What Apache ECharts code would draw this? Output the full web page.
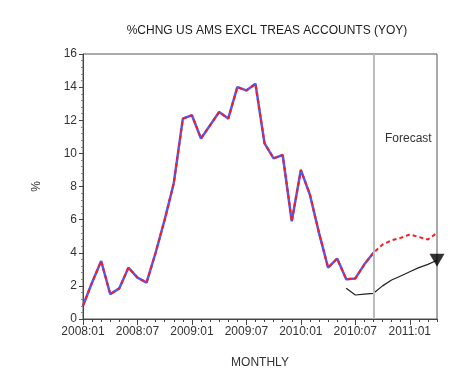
<!DOCTYPE html>
<html><head><meta charset="utf-8">
<script src="https://cdn.jsdelivr.net/npm/echarts@6/dist/echarts.min.js"></script>
<style>html,body{margin:0;padding:0;background:#fff}#c{width:471px;height:390px}</style>
</head><body><div id="c"></div>
<script>
const months = ['2008:01','2008:02','2008:03','2008:04','2008:05','2008:06','2008:07','2008:08','2008:09','2008:10','2008:11','2008:12',
'2009:01','2009:02','2009:03','2009:04','2009:05','2009:06','2009:07','2009:08','2009:09','2009:10','2009:11','2009:12',
'2010:01','2010:02','2010:03','2010:04','2010:05','2010:06','2010:07','2010:08','2010:09','2010:10','2010:11','2010:12',
'2011:01','2011:02','2011:03','2011:04'];
const actual = [0.8,2.2,3.5,1.5,1.85,3.1,2.5,2.2,4.0,6.0,8.2,12.1,
12.3,10.9,11.7,12.5,12.1,14.0,13.8,14.2,10.6,9.7,9.9,5.9,
9.0,7.5,5.2,3.1,3.65,2.4,2.45,3.3,4.0];
const forecastRed = [4.5,4.75,4.9,5.1,4.95,4.8,5.2];
const blackLine = [1.85,1.45,1.5,1.55,2.0,2.35,2.6,2.85,3.1,3.3,3.55];
const blackStart = 29;
const forecastMonth = '2010:09';
const yTicks = [0,2,4,6,8,10,12,14,16];

const n = months.length;
const blueData = months.map((m,i)=> i < actual.length ? actual[i] : null);
const redData = months.map((m,i)=> i < actual.length ? actual[i] : forecastRed[i-actual.length]);
const blackData = months.map((m,i)=> i < blackStart ? null : blackLine[i-blackStart]);
const endPoint = [[months[n-1], blackLine[blackLine.length-1]]];

const chart = echarts.init(document.getElementById('c'));
const lblFont = {fontFamily:'Liberation Sans, Arial', fontSize:12, color:'#333'};
chart.setOption({
  animation:false,
  title:{text:'%CHNG US AMS EXCL TREAS ACCOUNTS (YOY)', left:262, top:20, textAlign:'center',
    textStyle:{fontFamily:'Liberation Sans, Arial', fontSize:12, fontWeight:'normal', color:'#222'}},
  grid:{left:83, right:34, top:54, bottom:71, show:true, borderColor:'#555', borderWidth:1, backgroundColor:'transparent'},
  xAxis:[{
    type:'category', data:months, boundaryGap:false,
    name:'MONTHLY', nameLocation:'middle', nameGap:38,
    nameTextStyle:lblFont,
    axisLine:{lineStyle:{color:'#444'}},
    axisTick:{show:true, interval:0, length:3, lineStyle:{color:'#444'}},
    axisLabel:Object.assign({interval:5, margin:7}, lblFont),
    splitLine:{show:false}
  },{
    type:'category', data:months, boundaryGap:false, position:'bottom',
    axisLine:{show:false},
    axisTick:{show:true, interval:5, length:6, lineStyle:{color:'#444'}},
    axisLabel:{show:false}, splitLine:{show:false}
  }],
  yAxis:{
    type:'value', min:yTicks[0], max:yTicks[yTicks.length-1], interval:2,
    name:'%', nameLocation:'middle', nameGap:40, nameRotate:90,
    nameTextStyle:lblFont,
    axisLine:{show:true, lineStyle:{color:'#444'}},
    axisTick:{show:true, length:4, lineStyle:{color:'#444'}},
    minorTick:{show:true, splitNumber:5, length:2, lineStyle:{color:'#888'}},
    axisLabel:Object.assign({margin:6}, lblFont),
    splitLine:{show:false}
  },
  graphic:[{type:'text', left:385, top:133, style:{text:'Forecast', font:'12px Liberation Sans, Arial', fill:'#333'}}],
  series:[
    {type:'line', data:blueData, symbol:'none', lineStyle:{color:'#4a5cff', width:2.5}, z:2,
      markLine:{silent:true, symbol:'none', label:{show:false},
        lineStyle:{color:'#bbb', width:2, type:'solid'}, data:[{xAxis:forecastMonth}]}},
    {type:'line', data:redData, symbol:'none', lineStyle:{color:'#ff1a1a', width:2, type:[4,3]}, z:3},
    {type:'line', data:blackData, symbol:'none', lineStyle:{color:'#222', width:1.2}, z:4},
    {type:'scatter', data:endPoint, symbol:'triangle', symbolSize:[15,13], symbolRotate:180,
      itemStyle:{color:'#000'}, clip:false, z:5}
  ]
});
</script></body></html>
